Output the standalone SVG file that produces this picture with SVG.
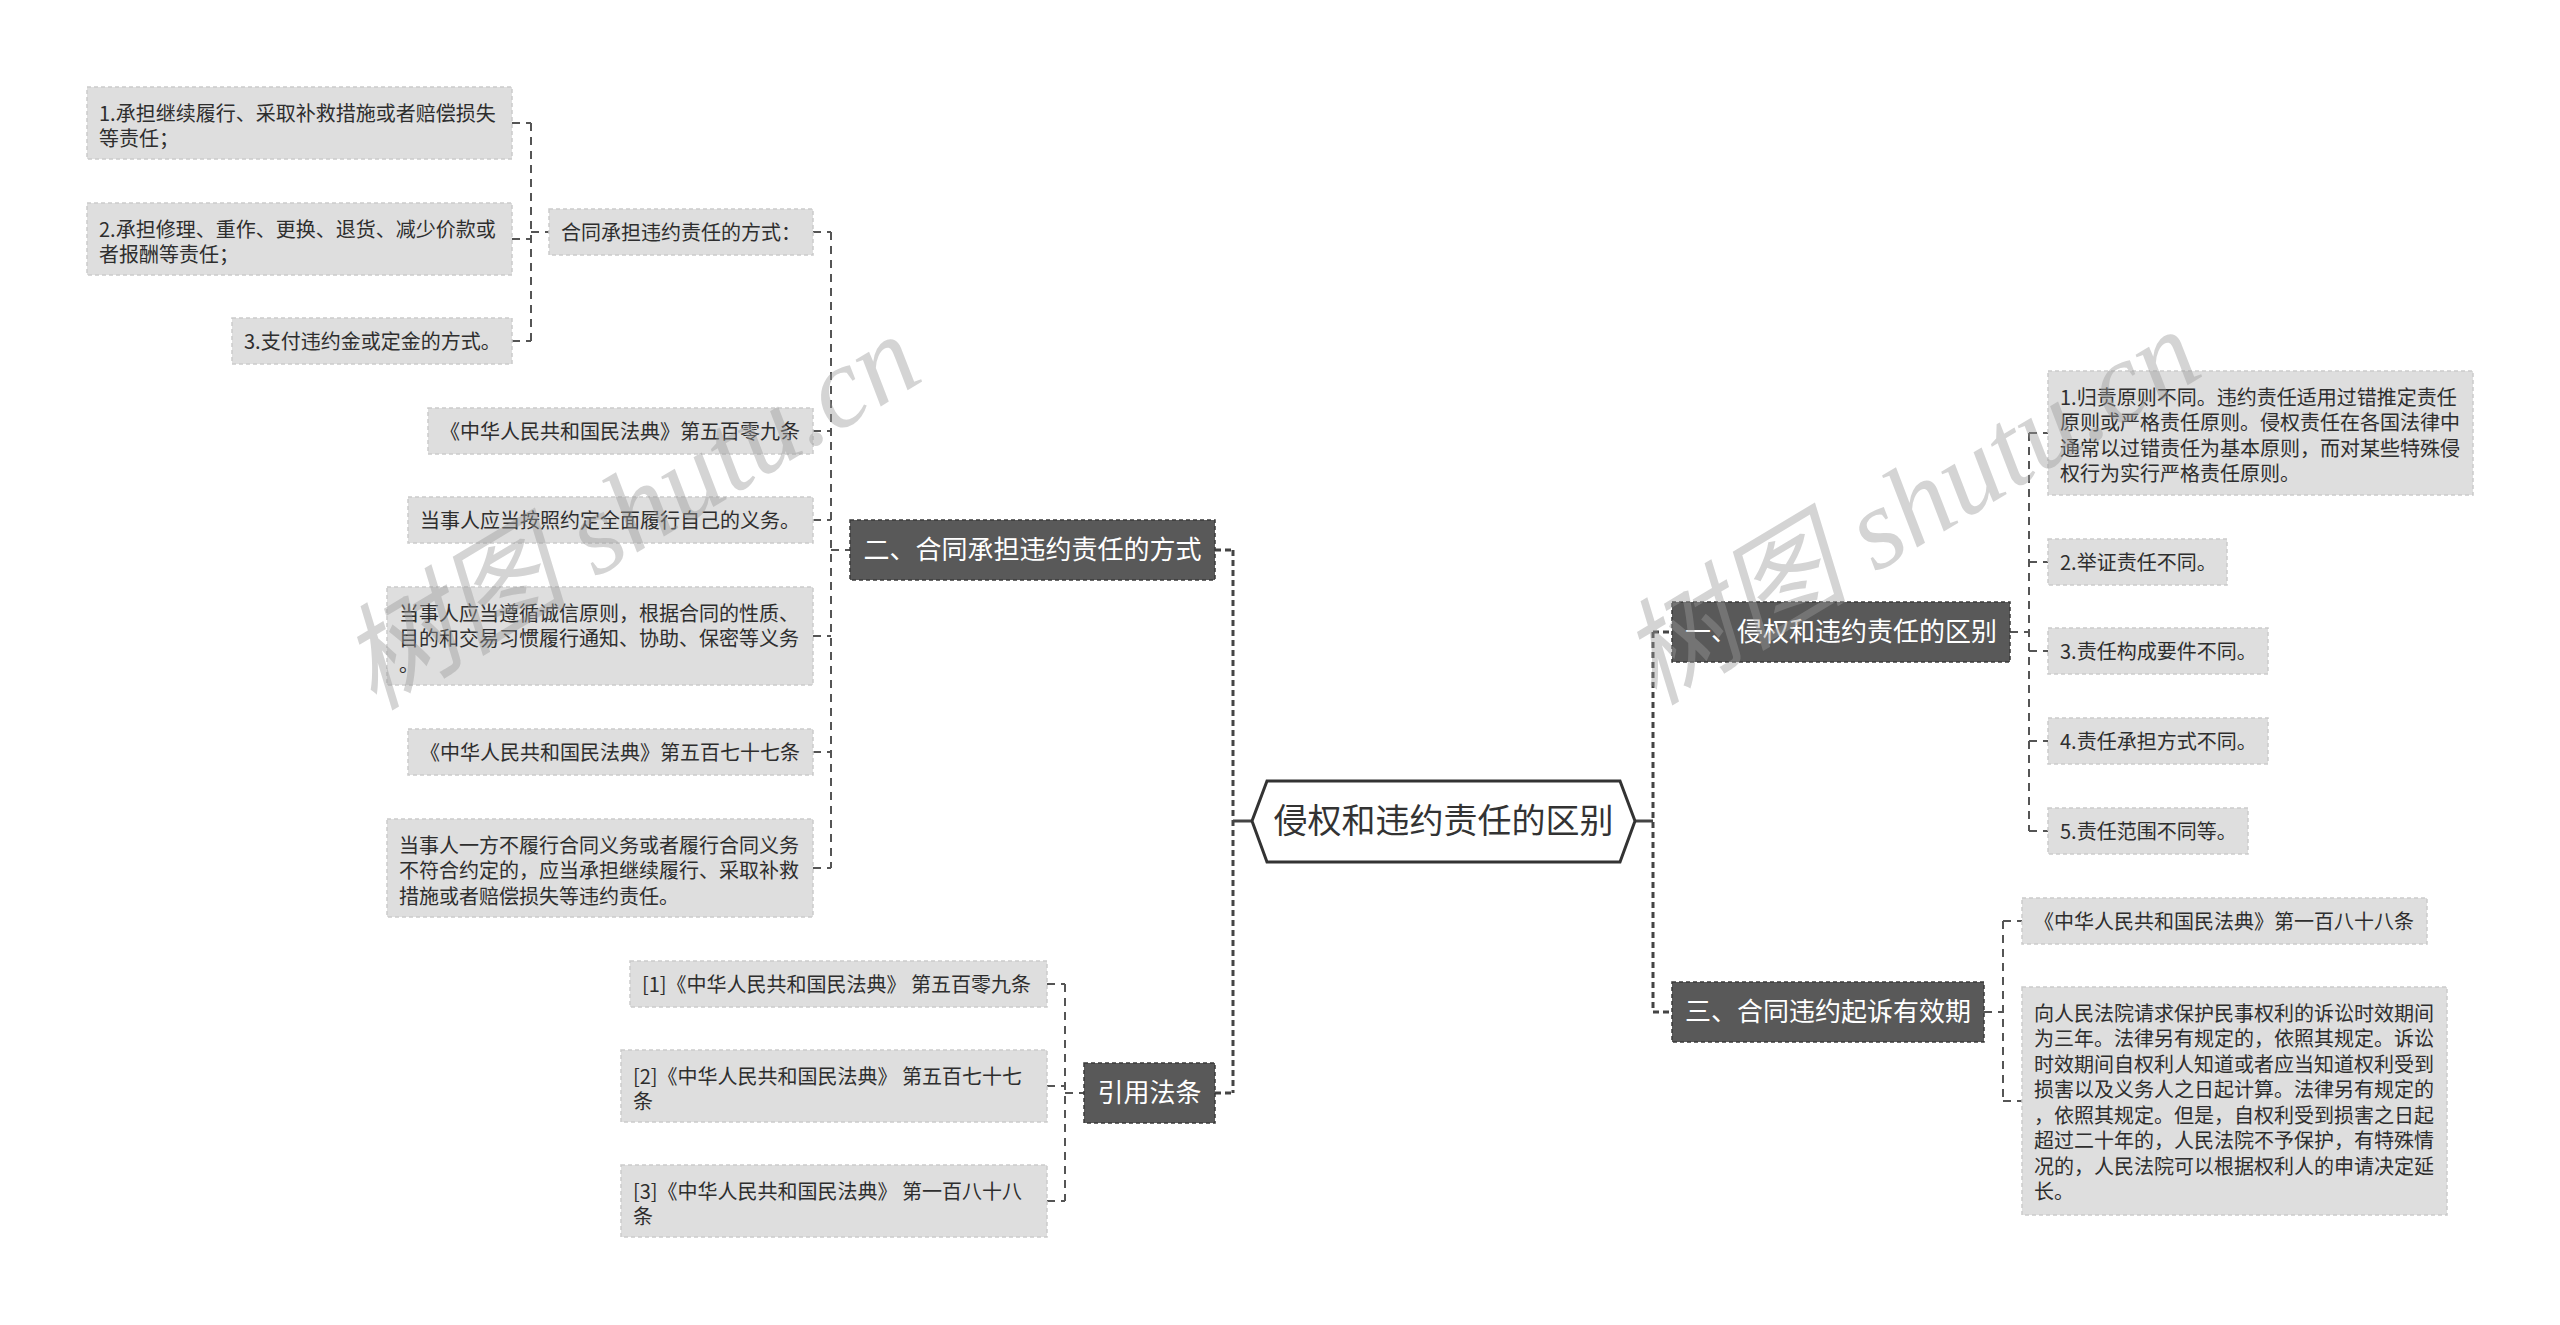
<svg xmlns="http://www.w3.org/2000/svg" width="2560" height="1325" viewBox="0 0 2560 1325">
<style>
text{font-family:"Noto Sans CJK SC","Microsoft YaHei",sans-serif;}
.leaf rect{fill:#dedede;stroke:#cbcbcb;stroke-width:1.5;stroke-dasharray:4 3;}
.leaf text{font-size:20px;fill:#2e2e2e;}
.main rect{fill:#595959;stroke:#3a3a3a;stroke-width:1.5;stroke-dasharray:4 3;}
.main text{font-size:26px;fill:#fff;text-anchor:middle;}
.c{fill:none;stroke:#555;stroke-width:2;stroke-dasharray:8 6;}
.c0{fill:none;stroke:#444;stroke-width:3;stroke-dasharray:6 4;}
.s0{fill:none;stroke:#444;stroke-width:3;}
.wm{font-family:"Liberation Serif","Noto Sans CJK SC",serif;font-size:115px;font-style:italic;fill:#9a9a9a;opacity:0.42;text-anchor:middle;}
</style>
<rect width="2560" height="1325" fill="#fff"/>
<g id="connectors">
<path class="c" d="M512 123H531M512 239H531M512 341H531M531 123V341M531 232H549"/>
<path class="c" d="M813 232H831M813 431H831M813 520H831M813 636H831M813 752H831M813 868H831M831 232V868M831 550H850"/>
<path class="c" d="M1047 984H1065M1047 1086H1065M1047 1201H1065M1065 984V1201M1065 1093H1084"/>
<path class="c0" d="M1215 550H1233M1215 1093H1233M1233 550V1093"/>
<path class="s0" d="M1233 821H1252M1635 821H1653"/>
<path class="c0" d="M1653 632V1012M1653 632H1672M1653 1012H1672"/>
<path class="c" d="M2010 632H2029M2029 433V831M2029 433H2048M2029 562H2048M2029 651H2048M2029 741H2048M2029 831H2048"/>
<path class="c" d="M1984 1012H2003M2003 921V1101M2003 921H2022M2003 1101H2022"/>
</g>
<g id="root">
<polygon points="1252,821 1267,781 1620,781 1635,821 1620,862 1267,862" fill="#fff" stroke="#333" stroke-width="3"/>
<text x="1443.5" y="833" font-size="34" fill="#333" text-anchor="middle">侵权和违约责任的区别</text>
</g>
<g id="n2" class="main"><rect x="850" y="520" width="365" height="60"/><text x="1032.5" y="559">二、合同承担违约责任的方式</text></g>
<g id="ncite" class="main"><rect x="1084" y="1063" width="131" height="60"/><text x="1149.5" y="1102">引用法条</text></g>
<g id="n1" class="main"><rect x="1672" y="602" width="338" height="60"/><text x="1841" y="641">一、侵权和违约责任的区别</text></g>
<g id="n3" class="main"><rect x="1672" y="982" width="312" height="60"/><text x="1828" y="1021">三、合同违约起诉有效期</text></g>
<g id="m0" class="leaf"><rect x="549" y="209" width="264" height="46"/><text x="561" y="240">合同承担违约责任的方式：</text></g>
<g id="l1" class="leaf"><rect x="87" y="87" width="425" height="72"/><text x="99" y="120.5">1.承担继续履行、采取补救措施或者赔偿损失</text><text x="99" y="146">等责任；</text></g>
<g id="l2" class="leaf"><rect x="87" y="203" width="425" height="72"/><text x="99" y="236.5">2.承担修理、重作、更换、退货、减少价款或</text><text x="99" y="262">者报酬等责任；</text></g>
<g id="l3" class="leaf"><rect x="232" y="318" width="280" height="46"/><text x="244" y="349">3.支付违约金或定金的方式。</text></g>
<g id="m1" class="leaf"><rect x="428" y="408" width="385" height="46"/><text x="440" y="439">《中华人民共和国民法典》第五百零九条</text></g>
<g id="m2" class="leaf"><rect x="408" y="497" width="405" height="46"/><text x="420" y="528">当事人应当按照约定全面履行自己的义务。</text></g>
<g id="m3" class="leaf"><rect x="387" y="587" width="426" height="98"/><text x="399" y="620.5">当事人应当遵循诚信原则，根据合同的性质、</text><text x="399" y="646">目的和交易习惯履行通知、协助、保密等义务</text><text x="399" y="671.5">。</text></g>
<g id="m4" class="leaf"><rect x="408" y="729" width="405" height="46"/><text x="420" y="760">《中华人民共和国民法典》第五百七十七条</text></g>
<g id="m5" class="leaf"><rect x="387" y="819" width="426" height="98"/><text x="399" y="852.5">当事人一方不履行合同义务或者履行合同义务</text><text x="399" y="878">不符合约定的，应当承担继续履行、采取补救</text><text x="399" y="903.5">措施或者赔偿损失等违约责任。</text></g>
<g id="c1" class="leaf"><rect x="630" y="961" width="417" height="46"/><text x="642" y="992">[1]《中华人民共和国民法典》 第五百零九条</text></g>
<g id="c2" class="leaf"><rect x="621" y="1050" width="426" height="72"/><text x="633" y="1083.5">[2]《中华人民共和国民法典》 第五百七十七</text><text x="633" y="1109">条</text></g>
<g id="c3" class="leaf"><rect x="621" y="1165" width="426" height="72"/><text x="633" y="1198.5">[3]《中华人民共和国民法典》 第一百八十八</text><text x="633" y="1224">条</text></g>
<g id="r1" class="leaf"><rect x="2048" y="371" width="425" height="124"/><text x="2060" y="404.5">1.归责原则不同。违约责任适用过错推定责任</text><text x="2060" y="430">原则或严格责任原则。侵权责任在各国法律中</text><text x="2060" y="455.5">通常以过错责任为基本原则，而对某些特殊侵</text><text x="2060" y="481">权行为实行严格责任原则。</text></g>
<g id="r2" class="leaf"><rect x="2048" y="539" width="179" height="46"/><text x="2060" y="570">2.举证责任不同。</text></g>
<g id="r3" class="leaf"><rect x="2048" y="628" width="220" height="46"/><text x="2060" y="659">3.责任构成要件不同。</text></g>
<g id="r4" class="leaf"><rect x="2048" y="718" width="220" height="46"/><text x="2060" y="749">4.责任承担方式不同。</text></g>
<g id="r5" class="leaf"><rect x="2048" y="808" width="200" height="46"/><text x="2060" y="839">5.责任范围不同等。</text></g>
<g id="s1" class="leaf"><rect x="2022" y="898" width="405" height="46"/><text x="2034" y="929">《中华人民共和国民法典》第一百八十八条</text></g>
<g id="s2" class="leaf"><rect x="2022" y="987" width="425" height="228"/><text x="2034" y="1020.5">向人民法院请求保护民事权利的诉讼时效期间</text><text x="2034" y="1046">为三年。法律另有规定的，依照其规定。诉讼</text><text x="2034" y="1071.5">时效期间自权利人知道或者应当知道权利受到</text><text x="2034" y="1097">损害以及义务人之日起计算。法律另有规定的</text><text x="2034" y="1122.5">，依照其规定。但是，自权利受到损害之日起</text><text x="2034" y="1148">超过二十年的，人民法院不予保护，有特殊情</text><text x="2034" y="1173.5">况的，人民法院可以根据权利人的申请决定延</text><text x="2034" y="1199">长。</text></g>
<g id="watermark">
<text class="wm" transform="translate(650,545) rotate(-31)">树图 shutu.cn</text>
<text class="wm" transform="translate(1930,540) rotate(-31)">树图 shutu.cn</text>
</g>
</svg>
